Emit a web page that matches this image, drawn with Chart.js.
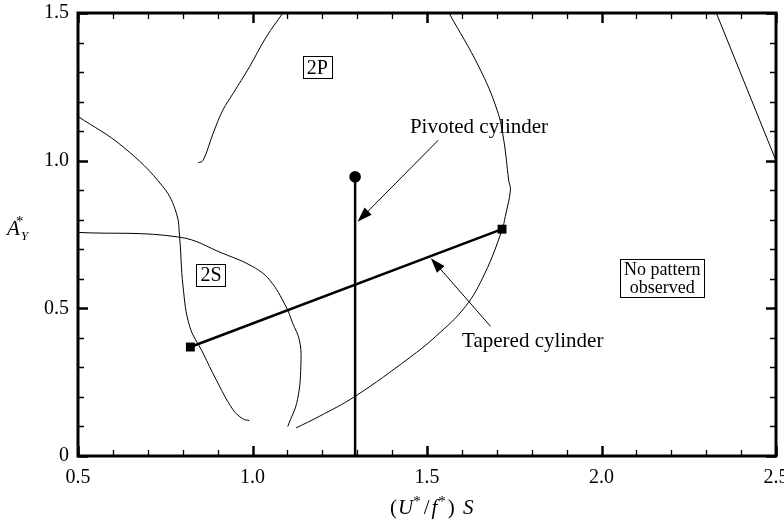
<!DOCTYPE html>
<html>
<head>
<meta charset="utf-8">
<script src="https://cdn.jsdelivr.net/npm/chart.js@4.4.1/dist/chart.umd.min.js"></script>
<style>
  html, body { margin: 0; padding: 0; background: #fff; }
  #wrap { width: 784px; height: 521px; position: relative; }
</style>
</head>
<body>
<div id="wrap"><canvas id="c" width="784" height="521"></canvas></div>
<script>
// Axis ranges and tick labels
const xRange = [0.5, 2.5];
const yRange = [0, 1.5];
const xTickLabels = ['0.5', '1.0', '1.5', '2.0', '2.5'];
const yTickLabels = ['0', '0.5', '1.0', '1.5'];

// Regime boundary curves, as [x, y] pairs
const boundaryUpperLeft = [[0.5, 1.15], [0.629, 1.047], [0.744, 0.911], [0.782, 0.822], [0.791, 0.743],
  [0.801, 0.574], [0.82, 0.439], [0.858, 0.349], [0.896, 0.258], [0.944, 0.157], [0.972, 0.126], [0.991, 0.12]];
const boundaryLowerLeft = [[0.5, 0.757], [0.791, 0.741], [0.915, 0.686], [1.001, 0.641], [1.049, 0.596],
  [1.096, 0.506], [1.115, 0.45], [1.134, 0.394], [1.139, 0.326], [1.129, 0.191], [1.101, 0.1]];
const boundary2P = [[0.844, 0.993], [0.858, 1.0], [0.887, 1.092], [0.915, 1.171], [0.944, 1.227],
  [0.991, 1.317], [1.039, 1.418], [1.087, 1.5]];
const boundaryRight = [[1.563, 1.5], [1.649, 1.317], [1.701, 1.171], [1.72, 1.069], [1.734, 0.934],
  [1.739, 0.9], [1.724, 0.81], [1.715, 0.765], [1.666, 0.619], [1.61, 0.506], [1.525, 0.405],
  [1.449, 0.332], [1.294, 0.202], [1.191, 0.134], [1.125, 0.095]];
const boundaryFarRight = [[2.329, 1.5], [2.5, 1.0]];

// Measured response ranges
const pivotedCylinder = [[1.294, 0], [1.294, 0.945]];
const taperedCylinder = [[0.822, 0.369], [1.715, 0.768]];

// Annotation text, arrows and boxed labels (data coordinates)
const arrowNotes = [
  { text: 'Pivoted cylinder', at: [1.649, 1.114], from: [1.532, 1.069], to: [1.301, 0.793] },
  { text: 'Tapered cylinder', at: [1.803, 0.387], from: [1.682, 0.439], to: [1.511, 0.670] }
];
const boxedLabels = [
  { lines: ['2P'], at: [1.186, 1.316], size: 20 },
  { lines: ['2S'], at: [0.881, 0.614], size: 20 },
  { lines: ['No pattern', 'observed'], at: [2.174, 0.603], size: 18 }
];

const toXY = arr => arr.map(p => ({ x: p[0], y: p[1] }));
const SERIF = '"Liberation Serif", "DejaVu Serif", serif';

function curve(data) {
  return { data: toXY(data), showLine: true, borderColor: '#000', borderWidth: 1,
    pointRadius: 0, tension: 0.4, fill: false };
}

const frameAndNotes = {
  id: 'frameAndNotes',
  afterDatasetsDraw(chart) {
    const ctx = chart.ctx;
    const a = chart.chartArea;
    const xs = chart.scales.x, ys = chart.scales.y;
    ctx.save();
    ctx.strokeStyle = '#000';
    ctx.fillStyle = '#000';

    // inward ticks on all four sides
    for (let i = 0; i <= 20; i++) {
      const v = xRange[0] + i * 0.1;
      const px = Math.round(xs.getPixelForValue(v)) + 0.5;
      const len = (i % 5 === 0) ? 10 : 6;
      ctx.lineWidth = (i % 5 === 0) ? 2.5 : 1.3;
      ctx.beginPath();
      ctx.moveTo(px, a.bottom); ctx.lineTo(px, a.bottom - len);
      ctx.moveTo(px, a.top); ctx.lineTo(px, a.top + len);
      ctx.stroke();
    }
    for (let i = 0; i <= 15; i++) {
      const v = yRange[0] + i * 0.1;
      const py = Math.round(ys.getPixelForValue(v)) + 0.5;
      const len = (i % 5 === 0) ? 10 : 6;
      ctx.lineWidth = (i % 5 === 0) ? 2.5 : 1.3;
      ctx.beginPath();
      ctx.moveTo(a.left, py); ctx.lineTo(a.left + len, py);
      ctx.moveTo(a.right, py); ctx.lineTo(a.right - len, py);
      ctx.stroke();
    }

    // frame
    ctx.lineWidth = 3;
    ctx.strokeRect(a.left, a.top, a.right - a.left, a.bottom - a.top);

    // annotated arrows
    ctx.font = '21px ' + SERIF;
    ctx.textAlign = 'center';
    ctx.textBaseline = 'middle';
    arrowNotes.forEach(n => {
      ctx.fillText(n.text, xs.getPixelForValue(n.at[0]), ys.getPixelForValue(n.at[1]));
      const x1 = xs.getPixelForValue(n.from[0]), y1 = ys.getPixelForValue(n.from[1]);
      const x2 = xs.getPixelForValue(n.to[0]), y2 = ys.getPixelForValue(n.to[1]);
      const ang = Math.atan2(y2 - y1, x2 - x1);
      const hl = 15, hw = 5;
      ctx.lineWidth = 1;
      ctx.beginPath();
      ctx.moveTo(x1, y1);
      ctx.lineTo(x2 - Math.cos(ang) * hl * 0.8, y2 - Math.sin(ang) * hl * 0.8);
      ctx.stroke();
      ctx.beginPath();
      ctx.moveTo(x2, y2);
      ctx.lineTo(x2 - Math.cos(ang) * hl - Math.sin(ang) * hw, y2 - Math.sin(ang) * hl + Math.cos(ang) * hw);
      ctx.lineTo(x2 - Math.cos(ang) * hl + Math.sin(ang) * hw, y2 - Math.sin(ang) * hl - Math.cos(ang) * hw);
      ctx.closePath();
      ctx.fill();
    });

    // boxed regime labels
    boxedLabels.forEach(b => {
      ctx.font = b.size + 'px ' + SERIF;
      const cx = xs.getPixelForValue(b.at[0]), cy = ys.getPixelForValue(b.at[1]);
      const lh = b.size;
      const w = Math.max(...b.lines.map(t => ctx.measureText(t).width)) + 8;
      const h = b.lines.length * lh + 2;
      ctx.lineWidth = 1;
      ctx.strokeRect(Math.round(cx - w / 2) + 0.5, Math.round(cy - h / 2) + 0.5, Math.round(w), Math.round(h));
      b.lines.forEach((t, i) => {
        ctx.fillText(t, cx, cy - h / 2 + 1 + lh * (i + 0.5) + 1);
      });
    });

    // axis titles
    ctx.textAlign = 'left';
    ctx.textBaseline = 'alphabetic';
    // y title: A*_Y
    ctx.font = 'italic 21px ' + SERIF;
    ctx.fillText('A', 7, 235);
    ctx.font = '15px ' + SERIF;
    ctx.fillText('*', 16, 226);
    ctx.font = 'italic 13px ' + SERIF;
    ctx.fillText('Y', 21, 240);
    // x title: (U*/f*) S   [text, font, baseline shift, gap after]
    const parts = [
      ['(', '21px', 0, 1], ['U', 'italic 21px', 0, 0], ['*', '15px', -8, 3], ['/', '21px', 0, 2],
      ['f', 'italic 21px', 0, 1], ['*', '15px', -8, 2], [')', '21px', 0, 3], [' S', 'italic 21px', 0, 0]
    ];
    let x = 390;
    parts.forEach(p => {
      ctx.font = p[1] + ' ' + SERIF;
      ctx.fillText(p[0], x, 514 + p[2]);
      x += ctx.measureText(p[0]).width + p[3];
    });
    ctx.restore();
  }
};

new Chart(document.getElementById('c'), {
  type: 'scatter',
  data: {
    datasets: [
      curve(boundaryUpperLeft),
      curve(boundaryLowerLeft),
      curve(boundary2P),
      curve(boundaryRight),
      { data: toXY(boundaryFarRight), showLine: true, borderColor: '#000', borderWidth: 1, pointRadius: 0, tension: 0 },
      { data: toXY(pivotedCylinder), showLine: true, borderColor: '#000', borderWidth: 2.5, tension: 0,
        pointRadius: [0, 5.8], pointStyle: 'circle', pointBackgroundColor: '#000', pointBorderWidth: 0 },
      { data: toXY(taperedCylinder), showLine: true, borderColor: '#000', borderWidth: 2.5, tension: 0,
        pointRadius: 6.3, pointStyle: 'rect', pointBackgroundColor: '#000', pointBorderWidth: 0 }
    ]
  },
  options: {
    responsive: false,
    animation: false,
    devicePixelRatio: 1,
    layout: { padding: { top: 13, right: 8, left: 0, bottom: 0 } },
    plugins: { legend: { display: false }, tooltip: { enabled: false } },
    scales: {
      x: {
        type: 'linear', min: xRange[0], max: xRange[1],
        grid: { display: false, drawTicks: false },
        border: { display: false },
        afterFit(s) { s.height = 65; s.paddingLeft = 0; s.paddingRight = 0; },
        ticks: {
          stepSize: 0.5, padding: 10, color: '#000',
          font: { family: SERIF, size: 20 },
          callback: (v) => xTickLabels[Math.round((v - xRange[0]) / 0.5)]
        }
      },
      y: {
        type: 'linear', min: yRange[0], max: yRange[1],
        grid: { display: false, drawTicks: false },
        border: { display: false },
        afterFit(s) { s.width = 78; s.paddingTop = 0; s.paddingBottom = 0; },
        ticks: {
          stepSize: 0.5, padding: 9, color: '#000',
          font: { family: SERIF, size: 20 },
          callback: (v) => yTickLabels[Math.round((v - yRange[0]) / 0.5)]
        }
      }
    }
  },
  plugins: [frameAndNotes]
});
</script>
</body>
</html>
